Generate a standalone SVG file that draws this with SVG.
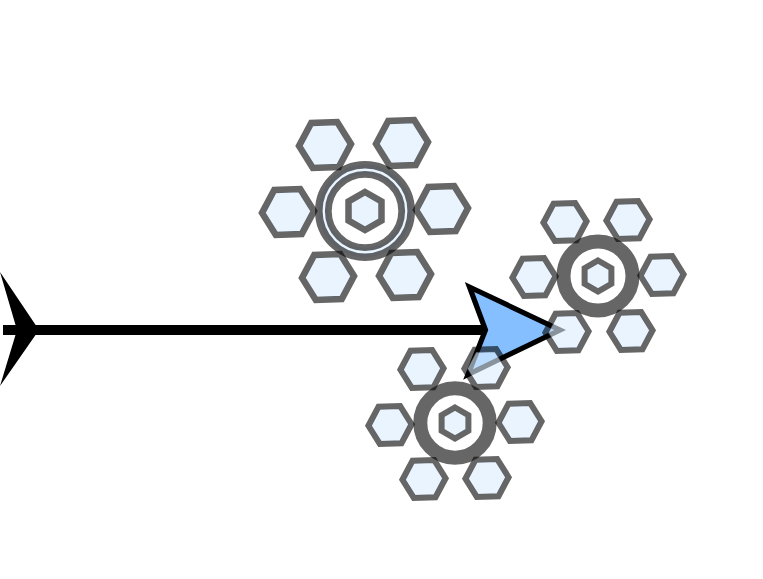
<svg xmlns="http://www.w3.org/2000/svg" width="763" height="579" viewBox="0 0 763 579">
<style>
.f{fill:#dbeeff;fill-opacity:.62;stroke:none}
.s{fill:none;stroke:#000;stroke-opacity:.6;stroke-linejoin:miter}
.w65{stroke-width:6.5}
.w6{stroke-width:6}
.ring{fill:none;stroke:#000;stroke-opacity:.6}
.disc{fill:#eaf5ff}
.core{fill:#fff}
</style>
<defs>
<g id="h26">
<polygon class="f" points="23,0 11.5,-19.9 -11.5,-19.9 -23,0 -11.5,19.9 11.5,19.9"/>
<polygon class="s w65" points="26,0 13,-22.5 -13,-22.5 -26,0 -13,22.5 13,22.5"/>
</g>
<g id="h22">
<polygon class="f" points="19,0 9.5,-16.45 -9.5,-16.45 -19,0 -9.5,16.45 9.5,16.45"/>
<polygon class="s w6" points="21.6,0 10.8,-18.7 -10.8,-18.7 -21.6,0 -10.8,18.7 10.8,18.7"/>
</g>
<g id="c19">
<polygon class="f" points="0,-16 13.9,-8 13.9,8 0,16 -13.9,8 -13.9,-8"/>
<polygon class="s w65" points="0,-19 16.5,-9.5 16.5,9.5 0,19 -16.5,9.5 -16.5,-9.5"/>
</g>
<g id="c15">
<polygon class="f" points="0,-12.5 10.8,-6.25 10.8,6.25 0,12.5 -10.8,6.25 -10.8,-6.25"/>
<polygon class="s w6" points="0,-15.5 13.4,-7.75 13.4,7.75 0,15.5 -13.4,7.75 -13.4,-7.75"/>
</g>
</defs>
<g id="connectors">
<path d="M3 330H487" fill="none" stroke="#000" stroke-width="10"/>
<polygon id="tail-marker" points="0,272 39,330 0,386 17,330" fill="#000"/>
<polygon id="arrow-head" points="469.5,287 560,330 468,374.500 485.500,330" fill="#85bfff" stroke="#000" stroke-width="5.2"/>
</g>
<g id="node-top">
<circle class="disc" cx="365" cy="211" r="46.5"/>
<circle class="core" cx="365" cy="211" r="36.7"/>
<circle class="ring" cx="365" cy="211" r="46.2" stroke-width="7.6"/>
<circle class="ring" cx="365" cy="211" r="36.7" stroke-width="6.8"/>
<use href="#c19" x="365" y="211"/>
<use href="#h26" transform="translate(325 145) rotate(-2)"/>
<use href="#h26" transform="translate(402 143) rotate(-2)"/>
<use href="#h26" transform="translate(442 209) rotate(-2)"/>
<use href="#h26" transform="translate(288 212) rotate(-2)"/>
<use href="#h26" transform="translate(328 277) rotate(-2)"/>
<use href="#h26" transform="translate(405 275) rotate(-2)"/>
</g>
<g id="node-right">
<circle class="core" cx="598" cy="276" r="34"/>
<circle class="ring" cx="598" cy="276" r="34.5" stroke-width="14"/>
<use href="#c15" x="598" y="276"/>
<use href="#h22" transform="translate(565 222) rotate(-2)"/>
<use href="#h22" transform="translate(628 220) rotate(-2)"/>
<use href="#h22" transform="translate(662 275) rotate(-2)"/>
<use href="#h22" transform="translate(534 277) rotate(-2)"/>
<use href="#h22" transform="translate(567 332) rotate(-2)"/>
<use href="#h22" transform="translate(631 331) rotate(-2)"/>
</g>
<g id="node-bottom">
<circle class="core" cx="455" cy="423" r="34"/>
<circle class="ring" cx="455" cy="423" r="34.7" stroke-width="14"/>
<use href="#c15" x="455" y="423"/>
<use href="#h22" transform="translate(422 369) rotate(-2)"/>
<use href="#h22" transform="translate(486 368) rotate(-2)"/>
<use href="#h22" transform="translate(520 422) rotate(-2)"/>
<use href="#h22" transform="translate(390 425) rotate(-2)"/>
<use href="#h22" transform="translate(424 479) rotate(-2)"/>
<use href="#h22" transform="translate(487 478) rotate(-2)"/>
</g>
</svg>
